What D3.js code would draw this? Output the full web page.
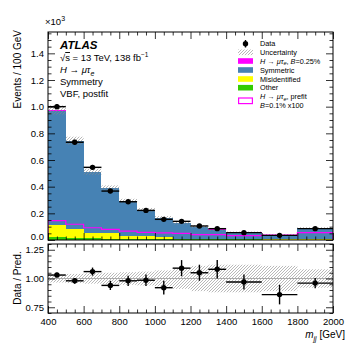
<!DOCTYPE html>
<html><head><meta charset="utf-8">
<script src="https://cdn.jsdelivr.net/npm/d3@7"></script>
<style>
html,body{margin:0;padding:0;background:#fff;}
svg{display:block;font-family:"Liberation Sans",Arial,Helvetica,sans-serif;}
</style></head>
<body><svg id="c" width="357" height="357"></svg>
<script>
// ---- data ----
const binEdges = [400,500,600,700,800,900,1000,1100,1200,1300,1400,1600,1800,2000];
const dataVals = [1000,733,545,367,287,222,155,140,105,85,55,35,85];
const otherVals = [25,17,12,10,9,7,6,5,5,5,4,3,3];
const misidVals = [87,63,43,40,23,20,14,6,3,3,2,2,4];
const symmetricVals = [859,662,455,338,259,198,147,115,91,70,50,35,81];
const signalVals = [4,3,2,2,2,1.5,1.3,1.2,1,1,0.8,0.9,1.4];
const prefitVals = [145,118,92,80,67,57,53,50,40,40,33,36,56];
const uncertRel = [0.035,0.04,0.045,0.05,0.055,0.06,0.07,0.09,0.11,0.12,0.12,0.11,0.08];
const ratioVals = [1.03,0.98,1.06,0.94,0.98,0.985,0.92,1.09,1.05,1.08,0.97,0.86,0.96];
const ratioErr = [0.02,0.025,0.035,0.04,0.045,0.05,0.06,0.07,0.07,0.08,0.065,0.085,0.045];
const xMajor = [400,600,800,1000,1200,1400,1600,1800,2000];
const yMainMajor = [0,200,400,600,800,1000,1200,1400];
const yRatioMajor = [0.75,1.0,1.25];

const svg = d3.select("#c");
const X0=48, X1=333, MT=32, MB=240, RT=244, RB=313;
const x = d3.scaleLinear().domain([400,2000]).range([X0,X1]);
const y = d3.scaleLinear().domain([0,1560]).range([MB,MT]);
const yr = d3.scaleLinear().domain([0.7,1.3]).range([RB,RT]);

const defs = svg.append("defs");
const pat = defs.append("pattern").attr("id","hatch").attr("patternUnits","userSpaceOnUse")
  .attr("width",3).attr("height",3);
pat.append("path").attr("d","M-1,1 l2,-2 M0,3 l3,-3 M2,4 l2,-2").attr("stroke","#8a8a8a").attr("stroke-width",0.6);
defs.append("clipPath").attr("id","cm").append("rect").attr("x",X0).attr("y",MT).attr("width",X1-X0).attr("height",MB-MT);
defs.append("clipPath").attr("id","cr").append("rect").attr("x",X0).attr("y",RT).attr("width",X1-X0).attr("height",RB-RT);

const bins = binEdges.slice(0,-1).map((lo,i)=>({i, lo, hi:binEdges[i+1],
  other:otherVals[i], misid:misidVals[i], symmetric:symmetricVals[i], signal:signalVals[i]}));
const keys = ["other","misid","symmetric","signal"];
const colors = {other:"#33cc00", misid:"#ffff00", symmetric:"#4682b4", signal:"#ff00ff"};
const stack = d3.stack().keys(keys)(bins);
const totals = bins.map(b=>keys.reduce((s,k)=>s+b[k],0));

const gm = svg.append("g").attr("clip-path","url(#cm)");
stack.forEach(layer=>{
  gm.selectAll(null).data(layer).enter().append("rect")
    .attr("x",d=>x(d.data.lo)).attr("width",d=>x(d.data.hi)-x(d.data.lo))
    .attr("y",d=>y(d[1])).attr("height",d=>Math.max(0,y(d[0])-y(d[1])))
    .attr("fill",colors[layer.key]).attr("shape-rendering","crispEdges");
});
// uncertainty
gm.selectAll(null).data(bins).enter().append("rect")
  .attr("x",d=>x(d.lo)).attr("width",d=>x(d.hi)-x(d.lo))
  .attr("y",d=>y(totals[d.i]*(1+uncertRel[d.i])))
  .attr("height",d=>y(totals[d.i]*(1-uncertRel[d.i]))-y(totals[d.i]*(1+uncertRel[d.i])))
  .attr("fill","url(#hatch)");
// prefit outline
const pts=[[400,0]];
bins.forEach(b=>{pts.push([b.lo,prefitVals[b.i]]);pts.push([b.hi,prefitVals[b.i]]);});
pts.push([2000,0]);
gm.append("path").attr("d",d3.line().x(d=>x(d[0])).y(d=>y(d[1]))(pts))
  .attr("fill","none").attr("stroke","#ff00ff").attr("stroke-width",1.2);
// data
const dg = gm.append("g").attr("stroke","#000").attr("stroke-width",1.4);
bins.forEach(b=>{
  const v=dataVals[b.i], e=ratioErr[b.i]*totals[b.i], xc=x((b.lo+b.hi)/2);
  dg.append("line").attr("x1",x(b.lo)).attr("x2",x(b.hi)).attr("y1",y(v)).attr("y2",y(v));
  dg.append("line").attr("x1",xc).attr("x2",xc).attr("y1",y(v-e)).attr("y2",y(v+e));
  dg.append("circle").attr("cx",xc).attr("cy",y(v)).attr("r",2.7).attr("fill","#000").attr("stroke","none");
});

// ratio panel
const gr = svg.append("g").attr("clip-path","url(#cr)");
gr.selectAll(null).data(bins).enter().append("rect")
  .attr("x",d=>x(d.lo)).attr("width",d=>x(d.hi)-x(d.lo))
  .attr("y",d=>yr(1+uncertRel[d.i])).attr("height",d=>yr(1-uncertRel[d.i])-yr(1+uncertRel[d.i]))
  .attr("fill","url(#hatch)");
gr.append("line").attr("x1",X0).attr("x2",X1).attr("y1",yr(1)).attr("y2",yr(1)).attr("stroke","#aaa").attr("stroke-width",1);
const rg = gr.append("g").attr("stroke","#000").attr("stroke-width",1.4);
bins.forEach(b=>{
  const v=ratioVals[b.i], e=ratioErr[b.i], xc=x((b.lo+b.hi)/2);
  rg.append("line").attr("x1",x(b.lo)).attr("x2",x(b.hi)).attr("y1",yr(v)).attr("y2",yr(v));
  rg.append("line").attr("x1",xc).attr("x2",xc).attr("y1",yr(v-e)).attr("y2",yr(v+e));
  rg.append("circle").attr("cx",xc).attr("cy",yr(v)).attr("r",2.7).attr("fill","#000").attr("stroke","none");
});

// axes
const xMinor = d3.range(400,2001,50).filter(v=>!xMajor.includes(v));
function styleAx(g){g.select(".domain").remove();g.selectAll("line").attr("stroke","#000").attr("stroke-width",0.8);
  g.selectAll("text").attr("font-size","9.5px").attr("fill","#000").attr("font-family","Liberation Sans, Arial, sans-serif");}
function panel(yS, top, bottom, yMaj, yMin, fmt, xLabels){
  svg.append("g").attr("transform",`translate(0,${bottom})`).call(d3.axisBottom(x).tickValues(xMajor).tickSize(-7).tickSizeOuter(0).tickPadding(5).tickFormat(xLabels?d3.format("d"):"")).call(styleAx);
  svg.append("g").attr("transform",`translate(0,${bottom})`).call(d3.axisBottom(x).tickValues(xMinor).tickSize(-3.5).tickSizeOuter(0).tickFormat("")).call(styleAx);
  svg.append("g").attr("transform",`translate(0,${top})`).call(d3.axisTop(x).tickValues(xMajor).tickSize(-7).tickSizeOuter(0).tickFormat("")).call(styleAx);
  svg.append("g").attr("transform",`translate(0,${top})`).call(d3.axisTop(x).tickValues(xMinor).tickSize(-3.5).tickSizeOuter(0).tickFormat("")).call(styleAx);
  const la = svg.append("g").attr("transform",`translate(${X0},0)`).call(d3.axisLeft(yS).tickValues(yMaj).tickSize(-7).tickSizeOuter(0).tickPadding(4).tickFormat(fmt)).call(styleAx);
  svg.append("g").attr("transform",`translate(${X0},0)`).call(d3.axisLeft(yS).tickValues(yMin).tickSize(-3.5).tickSizeOuter(0).tickFormat("")).call(styleAx);
  svg.append("g").attr("transform",`translate(${X1},0)`).call(d3.axisRight(yS).tickValues(yMaj).tickSize(-7).tickSizeOuter(0).tickFormat("")).call(styleAx);
  svg.append("g").attr("transform",`translate(${X1},0)`).call(d3.axisRight(yS).tickValues(yMin).tickSize(-3.5).tickSizeOuter(0).tickFormat("")).call(styleAx);
  svg.append("rect").attr("x",X0).attr("y",top).attr("width",X1-X0).attr("height",bottom-top)
    .attr("fill","none").attr("stroke","#000").attr("stroke-width",1);
  return la;
}
const yMainMinor = d3.range(0,1551,50).filter(v=>!yMainMajor.includes(v));
const leftMain = panel(y, MT, MB, yMainMajor, yMainMinor, d=>(d/1000).toFixed(1), false);
// lift the bottom "0.0" label slightly so it clears the ratio panel labels
leftMain.selectAll(".tick").filter(d=>d===0).select("text").attr("dy","-0.05em");
const yRatioMinor = d3.range(0,13).map(i=>+(0.7+i*0.05).toFixed(2)).filter(v=>!yRatioMajor.includes(v));
panel(yr, RT, RB, yRatioMajor, yRatioMinor, d=>d.toFixed(2), true);

// axis titles
const T = (xx,yy,fs)=>svg.append("text").attr("x",xx).attr("y",yy).attr("font-size",fs+"px").attr("fill","#000");
const ex = T(45,25,9.5); ex.append("tspan").text("×10"); ex.append("tspan").attr("font-size","7px").attr("dy",-4).text("3");
svg.append("text").attr("transform","translate(21,30) rotate(-90)").attr("text-anchor","end").attr("font-size","10px").text("Events / 100 GeV");
svg.append("text").attr("transform","translate(21,278) rotate(-90)").attr("text-anchor","middle").attr("font-size","10px").text("Data / Pred.");
const xt = svg.append("text").attr("x",345).attr("y",338).attr("text-anchor","end").attr("font-size","10px");
xt.append("tspan").attr("font-style","italic").text("m");
xt.append("tspan").attr("font-style","italic").attr("font-size","7px").attr("dy",2.5).text("jj");
xt.append("tspan").attr("dy",-2.5).text(" [GeV]");

// labels
T(60,49,11.5).attr("font-weight","bold").attr("font-style","italic").text("ATLAS");
const l2 = T(60,61,9.5);
l2.append("tspan").text("√");
l2.append("tspan").attr("text-decoration","overline").text("s");
l2.append("tspan").text(" = 13 TeV, 138 fb");
l2.append("tspan").attr("font-size","6.5px").attr("dy",-4).text("−1");
const l3 = T(60,73,9.5);
l3.append("tspan").attr("font-style","italic").text("H");
l3.append("tspan").text(" → ");
l3.append("tspan").attr("font-style","italic").text("μτ");
l3.append("tspan").attr("font-style","italic").attr("font-size","7px").attr("dy",2.5).text("e");
T(60,85,9.5).text("Symmetry");
T(60,97,9.5).text("VBF, postfit");

// legend
const LX=238, LW=15, LT=260, fs=7.3;
const lg = svg.append("g");
lg.append("line").attr("x1",LX+LW/2).attr("x2",LX+LW/2).attr("y1",40).attr("y2",47.5).attr("stroke","#000").attr("stroke-width",1.4);
lg.append("circle").attr("cx",LX+LW/2).attr("cy",43.7).attr("r",2.7).attr("fill","#000");
const legRows = [
  {y:52.3, fill:"url(#hatch)", label:"Uncertainty"},
  {y:61, fill:colors.signal, label:"sig"},
  {y:70, fill:colors.symmetric, label:"Symmetric"},
  {y:79, fill:colors.misid, label:"Misidentified"},
  {y:87.7, fill:colors.other, label:"Other"}
];
T(LT,46.3,fs).text("Data");
legRows.forEach(r=>{
  lg.append("rect").attr("x",LX).attr("y",r.y-2.8).attr("width",LW).attr("height",5.6).attr("fill",r.fill);
  const t = T(LT,r.y+2.6,fs);
  if(r.label==="sig"){
    t.append("tspan").attr("font-style","italic").text("H");
    t.append("tspan").text(" → ");
    t.append("tspan").attr("font-style","italic").text("μτ");
    t.append("tspan").attr("font-style","italic").attr("font-size","5.5px").attr("dy",1.8).text("e");
    t.append("tspan").attr("dy",-1.8).text(", ");
    t.append("tspan").attr("font-style","italic").text("B");
    t.append("tspan").text("=0.25%");
  } else t.text(r.label);
});
lg.append("rect").attr("x",LX+0.6).attr("y",98).attr("width",LW-1.2).attr("height",5.6).attr("fill","none").attr("stroke","#ff00ff").attr("stroke-width",1.2);
const p1 = T(LT,99,fs);
p1.append("tspan").attr("font-style","italic").text("H");
p1.append("tspan").text(" → ");
p1.append("tspan").attr("font-style","italic").text("μτ");
p1.append("tspan").attr("font-style","italic").attr("font-size","5.5px").attr("dy",1.8).text("e");
p1.append("tspan").attr("dy",-1.8).text(", prefit");
const p2 = T(LT,107.5,fs);
p2.append("tspan").attr("font-style","italic").text("B");
p2.append("tspan").text("=0.1% x100");
</script></body></html>
